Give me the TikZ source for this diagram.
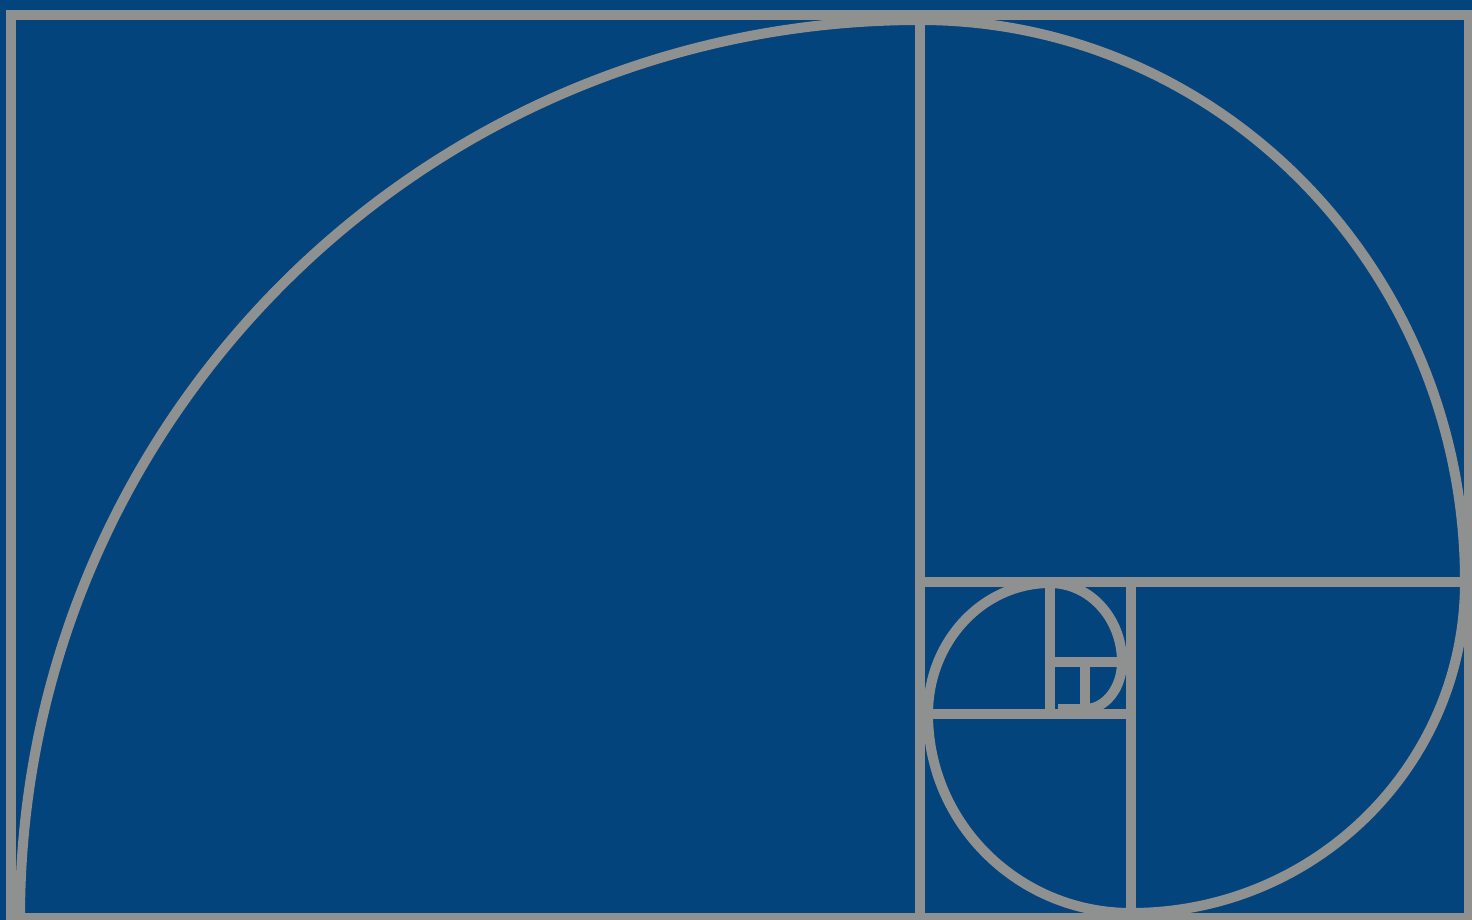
\documentclass[tikz,border=0pt]{standalone}
\definecolor{bgblue}{HTML}{03447D}
\definecolor{linegray}{HTML}{8F9191}
\tikzset{
  frameline/.style={draw=linegray, line width=10pt, line cap=butt},
  spiralline/.style={draw=linegray, line width=10pt, line join=round, line cap=butt}
}
\begin{document}
\begin{tikzpicture}[x=1pt,y=1pt]
\useasboundingbox (0,0) rectangle (1472,-920);
\fill[bgblue] (0,0) rectangle (1472,-920);
% frame and squares
\draw[frameline] (11,-15) rectangle (1469,-918);
\draw[frameline] (920,-15) -- (920,-918);
\draw[frameline] (920,-582) -- (1469,-582);
\draw[frameline] (1131,-582) -- (1131,-918);
\draw[frameline] (920,-714) -- (1131,-714);
\draw[frameline] (1050,-582) -- (1050,-714);
\draw[frameline] (1050,-662) -- (1131,-662);
\draw[frameline] (1085,-662) -- (1085,-714);
% spiral
\draw[spiralline] (20,-918)
  arc[start angle=180, end angle=90, x radius=900pt, y radius=898pt]
  arc[start angle=90, end angle=0, x radius=545pt, y radius=562pt]
  arc[start angle=0, end angle=-90, x radius=334pt, y radius=331pt]
  arc[start angle=-90, end angle=-180, x radius=203pt, y radius=199pt]
  arc[start angle=180, end angle=90, x radius=122pt, y radius=131pt]
  arc[start angle=90, end angle=0, x radius=72pt, y radius=79pt]
  arc[start angle=0, end angle=-90, x radius=37pt, y radius=47pt]
  -- (1058,-709);
\end{tikzpicture}
\end{document}
